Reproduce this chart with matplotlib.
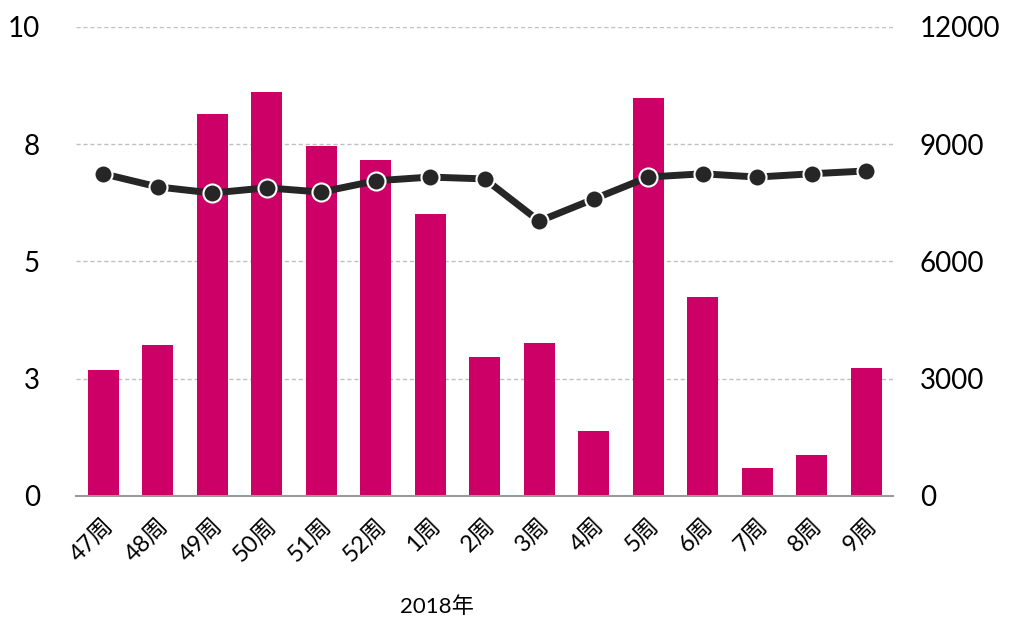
import matplotlib
matplotlib.use("Agg")
import matplotlib.pyplot as plt

plt.rcParams['font.family'] = ['Lato', 'Noto Sans CJK SC', 'DejaVu Sans']

weeks = ["47周", "48周", "49周", "50周", "51周", "52周", "1周", "2周", "3周",
         "4周", "5周", "6周", "7周", "8周", "9周"]
bar_values = [3220, 3860, 9770, 10340, 8950, 8600, 7210, 3560, 3910,
              1660, 10180, 5090, 720, 1050, 3270]
line_values = [6.87, 6.59, 6.46, 6.57, 6.48, 6.72, 6.80, 6.76, 5.86,
               6.33, 6.80, 6.87, 6.80, 6.87, 6.93]
left_ticks = [0, 2.5, 5, 7.5, 10]
left_labels = ["0", "3", "5", "8", "10"]
right_ticks = [0, 3000, 6000, 9000, 12000]
right_labels = ["0", "3000", "6000", "9000", "12000"]
xlabel = "2018年"

fig = plt.figure(figsize=(10.13, 6.23), dpi=100)
ax = fig.add_axes([0.075, 0.2039, 0.807, 0.7528])
ax2 = ax.twinx()
x = list(range(len(weeks)))

# bars on primary axes (right-hand scale)
ax.bar(x, bar_values, width=0.57, color="#CC0066", zorder=2)
ax.set_ylim(0, 12000)
ax.set_xlim(-0.5, len(weeks) - 0.5)
ax.grid(axis="y", color="#c0c0c0", linestyle=(0, (3, 2)), linewidth=1, zorder=0)
ax.set_axisbelow(True)
for s in ["top", "left", "right"]:
    ax.spines[s].set_visible(False)
ax.spines["bottom"].set_color("#999999")
ax.spines["bottom"].set_linewidth(1.5)
ax.set_xticks(x)
ax.set_xticklabels(weeks, fontsize=17, rotation=45, ha="right", va="top",
                   rotation_mode="anchor")
ax.tick_params(axis="x", length=0, pad=14)

# line on twin axes (left-hand scale)
ax2.plot(x, line_values, color="#262626", linewidth=5, marker="o",
         markersize=13, markerfacecolor="#262626", markeredgecolor="white",
         markeredgewidth=1.5, zorder=3)
ax2.set_ylim(0, 10)
for s in ["top", "left", "right", "bottom"]:
    ax2.spines[s].set_visible(False)

# tick placement after twinning
ax.yaxis.tick_right()
ax.set_yticks(right_ticks)
ax.set_yticklabels(right_labels, fontsize=20)
ax.tick_params(axis="y", length=0, pad=19)

ax2.yaxis.tick_left()
ax2.set_yticks(left_ticks)
ax2.set_yticklabels(left_labels, fontsize=20)
ax2.tick_params(axis="y", length=0, pad=26)

fig.text(437 / 1013, 1 - 607 / 623, xlabel, fontsize=16, ha="center", va="center")

fig.savefig("out.png", dpi=100)
